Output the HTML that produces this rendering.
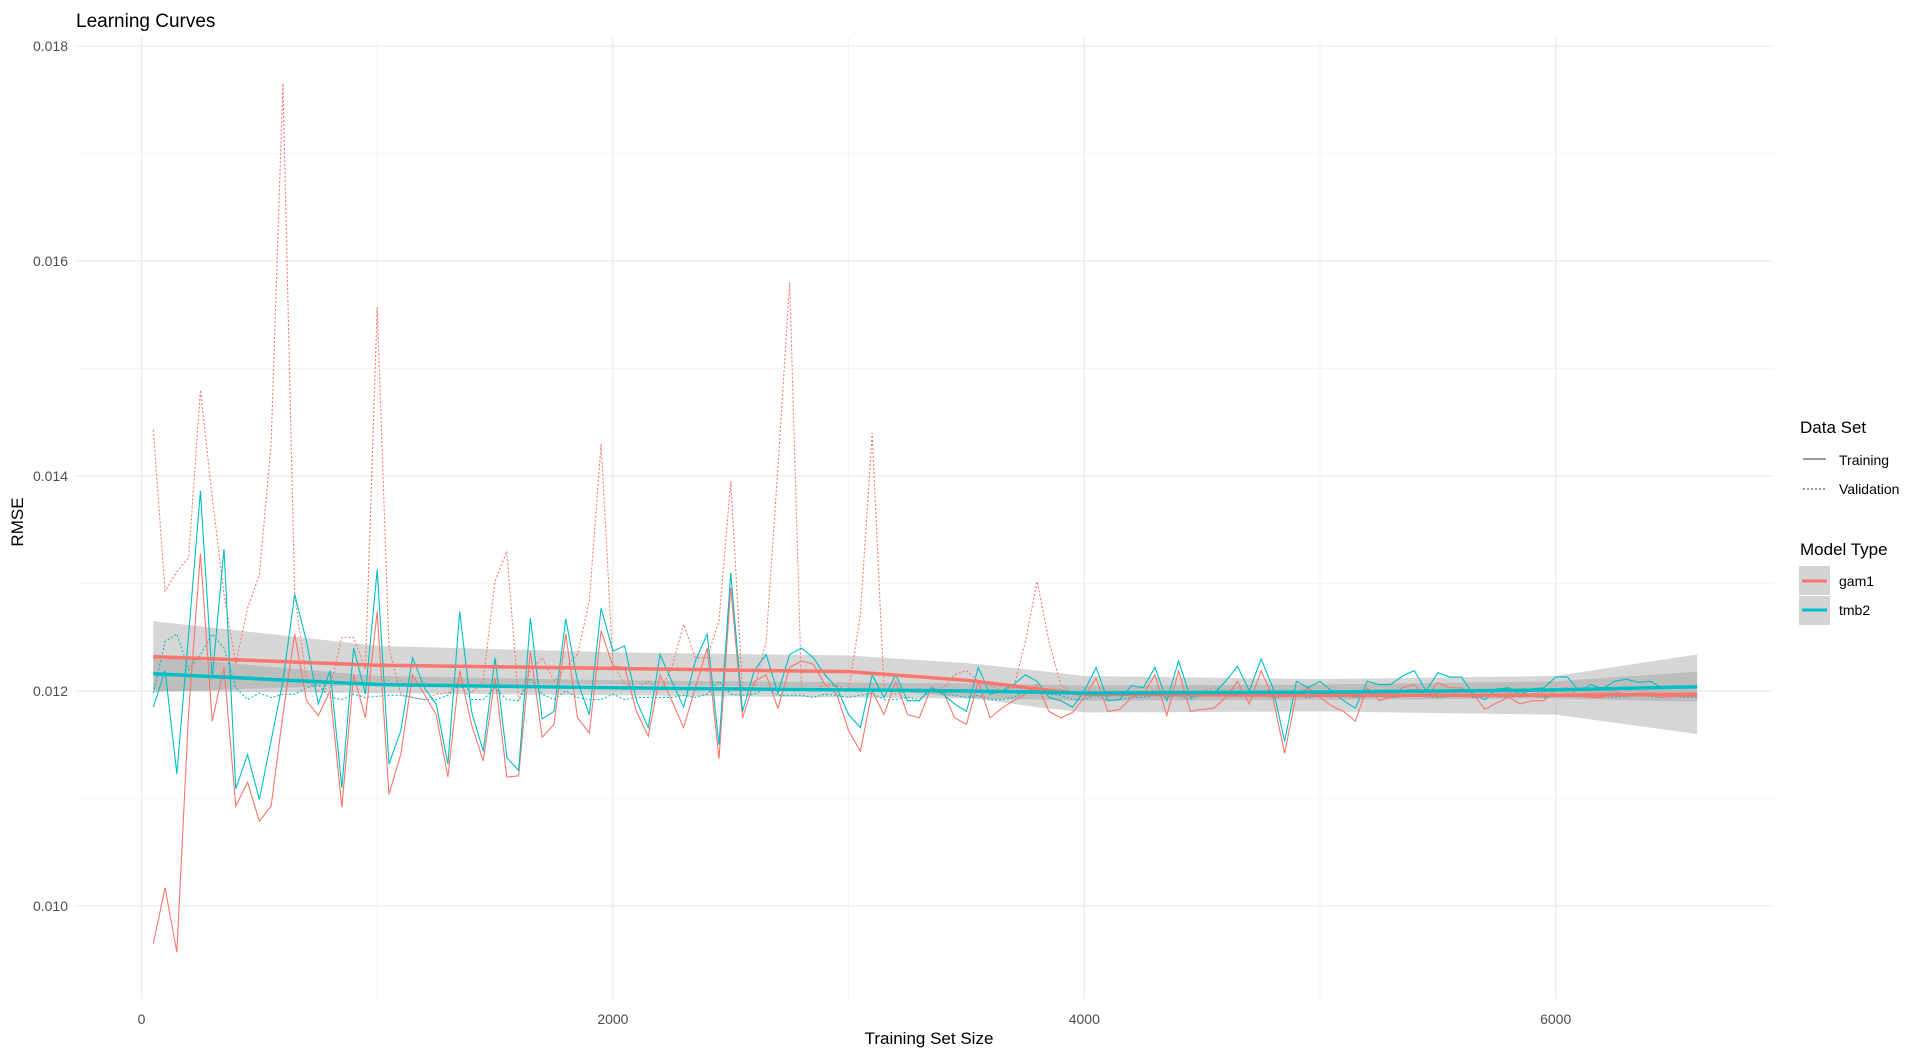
<!DOCTYPE html>
<html><head><meta charset="utf-8"><style>
html,body{margin:0;padding:0;background:#fff;}
svg{display:block;font-family:"Liberation Sans",Arial,sans-serif;}
</style></head><body>
<svg id="chart" width="1920" height="1052" viewBox="0 0 1920 1052" xmlns="http://www.w3.org/2000/svg">
<text x="76" y="27" font-size="19" fill="#000">Learning Curves</text>
<g id="grid"></g><g id="bands"></g><g id="series"></g><g id="smooth"></g><g id="axes"></g>
<text x="929" y="1044" font-size="17" text-anchor="middle" fill="#000">Training Set Size</text>
<text transform="translate(23,522) rotate(-90)" font-size="17" text-anchor="middle" fill="#000">RMSE</text>
<g transform="translate(-10,0)">
<text x="1810" y="433" font-size="17" fill="#000">Data Set</text>
<line x1="1813" y1="459" x2="1836" y2="459" stroke="#333" stroke-width="1.1"/>
<text x="1849" y="465" font-size="14" fill="#000">Training</text>
<line x1="1813" y1="489" x2="1836" y2="489" stroke="#333" stroke-width="1.1" stroke-dasharray="2,2"/>
<text x="1849" y="494" font-size="14" fill="#000">Validation</text>
<text x="1810" y="555" font-size="17" fill="#000">Model Type</text>
<rect x="1809" y="566" width="31" height="29" fill="#d4d4d4"/>
<line x1="1812" y1="581" x2="1837" y2="581" stroke="#F8766D" stroke-width="3"/>
<text x="1849" y="586" font-size="14" fill="#000">gam1</text>
<rect x="1809" y="596" width="31" height="29" fill="#d4d4d4"/>
<line x1="1812" y1="610" x2="1837" y2="610" stroke="#00BFC4" stroke-width="3"/>
<text x="1849" y="615" font-size="14" fill="#000">tmb2</text>
</g>
</svg>
<script>
const xStart = 50, xStep = 50;
const gamTrain = [0.00965,0.01017,0.00957,0.0118,0.01328,0.01172,0.01222,0.01093,0.01115,0.01079,
0.01093,0.01178,0.01253,0.01191,0.01177,0.012,0.01092,0.01215,0.01175,0.01274,
0.01104,0.01141,0.01215,0.01197,0.01178,0.0112,0.01219,0.01169,0.01135,0.01212,
0.0112,0.01121,0.01237,0.01157,0.01169,0.01253,0.01175,0.01161,0.01256,0.01223,
0.01222,0.01181,0.01158,0.01215,0.01191,0.01166,0.01203,0.0124,0.01137,0.01296,
0.01175,0.01209,0.01215,0.01184,0.01222,0.01228,0.01225,0.01206,0.01197,0.01163,
0.01144,0.012,0.01178,0.01209,0.01178,0.01175,0.01203,0.012,0.01175,0.01169,
0.01209,0.01175,0.01184,0.01191,0.01197,0.01206,0.01181,0.01175,0.0118,0.01194,
0.01212,0.01181,0.01183,0.01194,0.01197,0.01215,0.01177,0.01219,0.01181,0.01183,
0.01184,0.01194,0.01209,0.01188,0.01219,0.01194,0.01142,0.01197,0.01203,0.01194,
0.01186,0.01181,0.01172,0.01203,0.01191,0.01194,0.01203,0.01206,0.01194,0.01208,
0.01203,0.01203,0.01197,0.01183,0.01189,0.01194,0.01188,0.01191,0.01191,0.01202,
0.01203,0.01195,0.01194,0.01194,0.01198,0.01197,0.01198,0.01197,0.01194,0.01195,
0.01195,0.01195];
const tmbTrain = [0.01185,0.01219,0.01123,0.01253,0.01386,0.01212,0.01332,0.01109,0.01141,0.01099,
0.01154,0.01209,0.0129,0.01246,0.01188,0.01219,0.0111,0.0124,0.01197,0.01313,
0.01132,0.01163,0.01231,0.01203,0.01188,0.01132,0.01274,0.01181,0.01144,0.01231,
0.01138,0.01126,0.01268,0.01174,0.01181,0.01267,0.01209,0.01178,0.01277,0.01237,
0.01242,0.01191,0.01166,0.01234,0.01209,0.01185,0.01228,0.01253,0.0115,0.0131,
0.01181,0.01219,0.01234,0.01198,0.01234,0.0124,0.01231,0.01215,0.01203,0.01178,
0.01166,0.01215,0.01194,0.01215,0.01191,0.01191,0.01203,0.01197,0.01188,0.01181,
0.01222,0.01197,0.012,0.01206,0.01215,0.01209,0.01194,0.01191,0.01185,0.012,
0.01222,0.01191,0.01192,0.01205,0.01203,0.01222,0.01191,0.01228,0.01194,0.01197,
0.01198,0.01209,0.01223,0.012,0.0123,0.01203,0.01153,0.01209,0.01203,0.01209,
0.012,0.01191,0.01184,0.01209,0.01206,0.01206,0.01214,0.01219,0.012,0.01217,
0.01213,0.01213,0.01197,0.01192,0.01202,0.01203,0.01197,0.01202,0.01203,0.01213,
0.01213,0.012,0.01206,0.01202,0.01209,0.01211,0.01208,0.01209,0.01203,0.01205,
0.01204,0.01204];
const gamVal = [0.01443,0.01293,0.01311,0.01324,0.0148,0.0138,0.0129,0.01225,0.01277,0.01308,
0.0143,0.01765,0.0129,0.0121,0.012,0.01203,0.0125,0.0125,0.0122,0.01557,
0.0124,0.01197,0.01194,0.01192,0.01197,0.01198,0.0121,0.01198,0.0121,0.01302,
0.0133,0.01191,0.01219,0.01231,0.01209,0.01222,0.01234,0.01284,0.0143,0.01225,
0.01206,0.01203,0.01209,0.012,0.01222,0.01262,0.01231,0.01231,0.01265,0.01395,
0.012,0.01203,0.01246,0.01407,0.0158,0.01203,0.012,0.01206,0.01205,0.012,
0.01271,0.0144,0.01203,0.01197,0.012,0.01202,0.012,0.01203,0.01215,0.01219,
0.01209,0.01206,0.012,0.01203,0.01246,0.01302,0.01246,0.01206,0.01197,0.01194,
0.01197,0.01195,0.01197,0.01198,0.01198,0.01201,0.01198,0.012,0.012,0.012,
0.01203,0.012,0.01203,0.01198,0.012,0.01201,0.01197,0.01199,0.01202,0.01198,
0.01197,0.012,0.01199,0.01201,0.01198,0.01197,0.012,0.01202,0.01199,0.01198,
0.01197,0.012,0.01201,0.01198,0.01196,0.01198,0.012,0.01197,0.01199,0.01201,
0.01198,0.01196,0.01199,0.01198,0.012,0.01197,0.01198,0.01199,0.01197,0.01198,
0.01197,0.01197];
const tmbVal = [0.01198,0.01246,0.01253,0.0122,0.01234,0.01253,0.0124,0.01203,0.01192,0.01198,
0.01194,0.01197,0.01197,0.01203,0.01206,0.01194,0.01192,0.01197,0.01194,0.01195,
0.01196,0.01196,0.01194,0.01192,0.01192,0.01196,0.01206,0.01192,0.01192,0.01203,
0.01192,0.01191,0.01212,0.01197,0.01192,0.012,0.01194,0.01192,0.01192,0.01197,
0.01192,0.01194,0.01194,0.01194,0.01194,0.01196,0.01194,0.01197,0.01209,0.01197,
0.01196,0.01197,0.01203,0.01196,0.01196,0.01196,0.01194,0.01197,0.01196,0.01194,
0.01196,0.01198,0.01192,0.01192,0.01194,0.01192,0.012,0.01198,0.01196,0.01194,
0.01196,0.01192,0.01192,0.01194,0.012,0.01203,0.01197,0.01196,0.01192,0.01192,
0.01196,0.01191,0.01192,0.01194,0.01194,0.01196,0.01194,0.01196,0.01192,0.01196,
0.01197,0.01197,0.01198,0.01195,0.01196,0.01194,0.01195,0.01196,0.01194,0.01195,
0.01196,0.01195,0.01194,0.01196,0.01195,0.01194,0.01195,0.01196,0.01195,0.01194,
0.01195,0.01196,0.01194,0.01195,0.01195,0.01194,0.01196,0.01195,0.01194,0.01195,
0.01195,0.01196,0.01194,0.01195,0.01194,0.01195,0.01196,0.01195,0.01194,0.01195,
0.01194,0.01194];
const smoothX = [50,1000,2000,3000,3500,3800,4000,5000,6000,6600];
const gamFit = [0.01232,0.01224,0.01221,0.01218,0.0121,0.01202,0.01197,0.01196,0.01196,0.01197];
const gamSe  = [0.00033,0.00018,0.00015,0.00015,0.00016,0.00017,0.00017,0.00015,0.00018,0.00037];
const tmbFit = [0.01216,0.01206,0.01203,0.01201,0.012,0.01199,0.01198,0.01199,0.01201,0.01204];
const tmbSe  = [0.00016,0.00008,0.00007,0.00007,0.00007,0.00007,0.00007,0.00007,0.00008,0.00014];
const yTicks = [0.010,0.012,0.014,0.016,0.018];
const yTickLabels = ["0.010","0.012","0.014","0.016","0.018"];
const xTicks = [0,2000,4000,6000];
const xTickLabels = ["0","2000","4000","6000"];

const NS="http://www.w3.org/2000/svg";
const PL=76, PR=1773, PT=37, PB=999;
function sx(x){return 141.5 + x*0.2357;}
function sy(v){return 46 + (0.018 - v)*107500;}
function mk(tag, parent, attrs){const e=document.createElementNS(NS,tag);for(const k in attrs)e.setAttribute(k,attrs[k]);parent.appendChild(e);return e;}

const grid=document.getElementById('grid');
for(let k=10; k<=18; k++){
  const v=k/1000, major=(k%2===0);
  const l=mk('line',grid,{x1:PL,x2:PR,y1:sy(v),y2:sy(v),stroke:'#ebebeb','stroke-width':major?1.2:0.6});
  
  
}
for(let x=0; x<=6000; x+=1000){
  const major = x%2000===0;
  const l=mk('line',grid,{x1:sx(x),x2:sx(x),y1:PT,y2:PB,stroke:'#ebebeb','stroke-width':major?1.2:0.6});
  
  
}

const axes=document.getElementById('axes');
yTicks.forEach((v,i)=>{
  const t=mk('text',axes,{x:68,y:sy(v)+5,'font-size':14,'text-anchor':'end',fill:'#4d4d4d'});
  t.textContent=yTickLabels[i];
  
  
});
xTicks.forEach((x,i)=>{
  const t=mk('text',axes,{x:sx(x),y:1024,'font-size':14,'text-anchor':'middle',fill:'#4d4d4d'});
  t.textContent=xTickLabels[i];
  
  
});

const bands=document.getElementById('bands');
function band(fit,se,name){
  let top=smoothX.map((x,i)=>sx(x)+','+sy(fit[i]+se[i]));
  let bot=smoothX.map((x,i)=>sx(x)+','+sy(fit[i]-se[i])).reverse();
  const p=mk('polygon',bands,{points:top.concat(bot).join(' '),fill:'#999999','fill-opacity':0.4});
  
  
}
band(gamFit,gamSe,'gam1-confidence-band');
band(tmbFit,tmbSe,'tmb2-confidence-band');

const series=document.getElementById('series');
function line(vals,color,dash,name){
  const pts=vals.map((v,i)=>sx(xStart+i*xStep).toFixed(2)+','+sy(v).toFixed(2)).join(' ');
  const p=mk('polyline',series,{points:pts,fill:'none',stroke:color,'stroke-width':1.1});
  if(dash)p.setAttribute('stroke-dasharray','2,2');
  
  
}
line(gamVal,'#F8766D',true,'gam1-validation-line');
line(tmbVal,'#00BFC4',true,'tmb2-validation-line');
line(gamTrain,'#F8766D',false,'gam1-training-line');
line(tmbTrain,'#00BFC4',false,'tmb2-training-line');

const sm=document.getElementById('smooth');
function smooth(fit,color,name){
  const pts=smoothX.map((x,i)=>sx(x)+','+sy(fit[i])).join(' ');
  const p=mk('polyline',sm,{points:pts,fill:'none',stroke:color,'stroke-width':3.5,'stroke-linejoin':'round'});
  
  
}
smooth(gamFit,'#F8766D','gam1-smooth-line');
smooth(tmbFit,'#00BFC4','tmb2-smooth-line');
</script>
</body></html>
